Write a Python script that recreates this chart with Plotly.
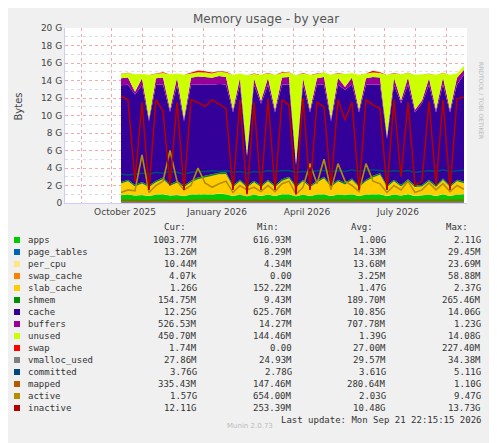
import pandas as pd
import plotly.graph_objects as go

# weekly samples, in GiB
dates = pd.date_range("2025-10-11", periods=50, freq="7D")

apps = [0.9, 0.95, 0.85, 0.9, 0.8, 0.95, 1.0, 0.85, 0.9, 0.8, 0.95, 1.0, 1.0, 0.95, 1.05, 1.0, 0.8, 0.95, 0.75, 0.95,
        0.8, 0.95, 0.8, 1.0, 1.0, 0.75, 0.95, 0.8, 0.95, 1.0, 0.8, 0.95, 0.9, 1.0, 0.8, 0.95, 1.0, 1.0, 0.8, 0.95,
        0.85, 1.0, 0.8, 0.85, 0.95, 0.8, 1.0, 0.8, 0.95, 0.98]
page_tables = [0.013] * 50
per_cpu = [0.01] * 50
swap_cache = [0.003] * 50
slab_cache = [1.3, 1.5, 1.0, 1.3, 1.0, 1.4, 1.7, 1.1, 1.4, 1.0, 1.4, 1.7, 1.9, 2.1, 2.2, 2.3, 1.0, 1.5, 1.0, 1.4,
              1.0, 1.5, 1.0, 1.5, 1.8, 1.0, 1.5, 1.0, 1.4, 1.8, 1.0, 1.5, 1.2, 1.6, 1.0, 1.5, 1.9, 2.2, 1.0, 1.5,
              1.0, 1.5, 1.0, 1.0, 1.5, 1.0, 1.6, 1.0, 1.5, 1.26]
shmem = [0.18] * 50
cache = [11.05, 10.85, 10.35, 11.05, 7.35, 10.95, 10.65, 8.25, 10.95, 7.35, 10.95, 10.65, 10.45, 10.25, 10.15, 10.05,
         8.35, 10.85, 3.35, 10.95, 9.35, 10.85, 8.35, 10.85, 10.55, 2.35, 10.85, 8.35, 10.95, 10.55, 7.35, 10.85,
         10.65, 10.75, 8.35, 10.85, 10.45, 10.15, 5.35, 10.85, 9.35, 10.85, 8.35, 9.35, 10.85, 8.35, 10.75, 8.35,
         10.85, 12.25]
buffers = [0.8, 0.85, 0.3, 0.8, 0.3, 0.75, 0.8, 0.3, 0.85, 0.3, 0.8, 0.9, 0.85, 0.8, 0.9, 0.85, 0.3, 0.8, 0.3, 0.75,
           0.3, 0.8, 0.3, 0.8, 0.85, 0.3, 0.8, 0.3, 0.75, 0.85, 0.3, 0.8, 0.3, 0.8, 0.3, 0.75, 0.85, 0.8, 0.3, 0.8,
           0.3, 0.8, 0.3, 0.3, 0.75, 0.3, 0.8, 0.3, 0.8, 0.53]
unused = [0.5, 0.5, 2.0, 0.5, 5.0, 0.5, 0.5, 4.0, 0.5, 5.0, 0.5, 0.5, 0.5, 0.5, 0.5, 0.5, 4.0, 0.5, 9.0, 0.5,
          3.0, 0.5, 4.0, 0.5, 0.5, 10.0, 0.5, 4.0, 0.5, 0.5, 5.0, 0.5, 1.5, 0.5, 4.0, 0.5, 0.5, 0.5, 7.0, 0.5,
          3.0, 0.5, 4.0, 3.0, 0.5, 4.0, 0.5, 4.0, 0.5, 0.45]
swap = [0.02, 0.02, 0.0, 0.0, 0.0, 0.05, 0.1, 0.0, 0.0, 0.0, 0.1, 0.2, 0.15, 0.1, 0.05, 0.1, 0.0, 0.0, 0.0, 0.05,
        0.0, 0.05, 0.0, 0.1, 0.05, 0.0, 0.05, 0.0, 0.05, 0.0, 0.0, 0.05, 0.0, 0.0, 0.0, 0.05, 0.2, 0.1, 0.0, 0.05,
        0.0, 0.02, 0.0, 0.0, 0.02, 0.0, 0.02, 0.0, 0.0, 0.002]
vmalloc_used = [0.03] * 50
committed = [3.3, 3.2, 3.3, 3.4, 3.3, 3.5, 3.4, 3.6, 3.5, 3.3, 3.5, 3.6, 3.6, 3.7, 3.6, 3.7, 3.5, 3.6, 3.4, 3.6,
             3.5, 3.7, 3.6, 3.7, 3.7, 3.5, 3.6, 3.5, 3.7, 3.7, 3.6, 3.7, 3.6, 3.8, 3.6, 3.7, 3.8, 3.7, 3.6, 3.7,
             3.6, 3.7, 3.5, 3.6, 3.7, 3.6, 3.8, 3.6, 3.7, 3.76]
mapped = [0.3, 0.28, 0.25, 0.3, 0.25, 0.3, 0.32, 0.25, 0.3, 0.25, 0.3, 0.3, 0.3, 0.28, 0.3, 0.3, 0.25, 0.3, 0.25, 0.3,
          0.25, 0.3, 0.25, 0.3, 0.3, 0.22, 0.3, 0.25, 0.3, 0.3, 0.25, 0.3, 0.3, 0.3, 0.25, 0.3, 0.3, 0.3, 0.25, 0.3,
          0.25, 0.3, 0.25, 0.25, 0.3, 0.25, 0.3, 0.25, 0.3, 0.33]
active = [1.2, 1.5, 1.4, 5.5, 1.2, 2.0, 2.5, 6.0, 2.5, 1.5, 2.0, 4.0, 2.3, 1.8, 2.2, 2.5, 1.2, 2.0, 1.5, 1.8,
          1.3, 2.0, 1.3, 2.2, 2.5, 1.0, 1.8, 4.5, 2.2, 5.0, 1.5, 4.5, 2.5, 2.0, 1.3, 4.5, 2.5, 2.2, 1.2, 2.0,
          1.5, 2.5, 1.2, 1.5, 2.3, 1.5, 2.2, 1.3, 2.0, 1.57]
inactive = [12.2, 11.8, 2.5, 11.5, 1.5, 11.8, 10.5, 2.0, 11.5, 1.5, 11.8, 11.5, 11.0, 11.8, 11.3, 10.8, 1.5, 11.8, 1.0, 11.5,
            1.5, 11.9, 1.5, 11.8, 11.2, 1.0, 12.0, 1.5, 11.5, 11.0, 2.0, 11.8, 9.5, 11.5, 1.5, 11.8, 11.2, 10.8, 1.5, 11.8,
            3.0, 11.5, 2.0, 2.5, 11.6, 2.0, 11.8, 1.5, 11.9, 12.11]

stack = [("apps", apps, "#00CC00"), ("page_tables", page_tables, "#0066B3"), ("per_cpu", per_cpu, "#FFE680"),
         ("swap_cache", swap_cache, "#FF8000"), ("slab_cache", slab_cache, "#FFCC00"), ("shmem", shmem, "#008F00"),
         ("cache", cache, "#330099"), ("buffers", buffers, "#990099"), ("unused", unused, "#CCFF00"),
         ("swap", swap, "#FF0000")]
lines = [("vmalloc_used", vmalloc_used, "#808080"), ("committed", committed, "#00487D"),
         ("mapped", mapped, "#B35A00"), ("active", active, "#B38F00"), ("inactive", inactive, "#B30000")]

stats = {
    "apps": ["1003.77M", "616.93M", "1.00G", "2.11G"],
    "page_tables": ["13.26M", "8.29M", "14.33M", "29.45M"],
    "per_cpu": ["10.44M", "4.34M", "13.68M", "23.69M"],
    "swap_cache": ["4.07k", "0.00", "3.25M", "58.88M"],
    "slab_cache": ["1.26G", "152.22M", "1.47G", "2.37G"],
    "shmem": ["154.75M", "9.43M", "189.70M", "265.46M"],
    "cache": ["12.25G", "625.76M", "10.85G", "14.06G"],
    "buffers": ["526.53M", "14.27M", "707.78M", "1.23G"],
    "unused": ["450.70M", "144.46M", "1.39G", "14.08G"],
    "swap": ["1.74M", "0.00", "27.00M", "227.40M"],
    "vmalloc_used": ["27.86M", "24.93M", "29.57M", "34.38M"],
    "committed": ["3.76G", "2.78G", "3.61G", "5.11G"],
    "mapped": ["335.43M", "147.46M", "280.64M", "1.10G"],
    "active": ["1.57G", "654.00M", "2.03G", "9.47G"],
    "inactive": ["12.11G", "253.39M", "10.48G", "13.73G"],
}

fig = go.Figure()
for name, vals, col in stack:
    fig.add_trace(go.Scatter(x=dates, y=vals, name=name, stackgroup="s", mode="lines",
                             line=dict(width=0, color=col), fillcolor=col))
for name, vals, col in lines:
    fig.add_trace(go.Scatter(x=dates, y=vals, name=name, mode="lines", line=dict(width=1.6, color=col)))

# the page adds an 8px body margin, so work in shifted pixel coords
OFF = 8
W, H = 497 - OFF, 443 - OFF
L, R, T, B = 65 - OFF, 467 - OFF, 28 - OFF, 203 - OFF
def px(x): return (x - OFF - L) / (R - L)
def py(y): return (B - (y - OFF)) / (B - T)

mono = "DejaVu Sans Mono"
ann = []
shapes = []
for txt, x in [("Cur:", 188), ("Min:", 281), ("Avg:", 375), ("Max:", 470)]:
    ann.append(dict(x=px(x), y=py(227), text=txt, xanchor="right"))
for i, (name, vals, col) in enumerate(stack + lines):
    y = 240 + 12 * i
    shapes.append(dict(type="rect", xref="paper", yref="paper", x0=px(14), x1=px(20), y0=py(y - 3), y1=py(y + 3),
                       fillcolor=col, line=dict(width=0)))
    ann.append(dict(x=px(26), y=py(y), text=name, xanchor="left"))
    for v, x in zip(stats[name], [199, 294, 388, 483]):
        ann.append(dict(x=px(x), y=py(y), text=v, xanchor="right"))
ann.append(dict(x=px(483), y=py(420), text="Last update: Mon Sep 21 22:15:15 2026", xanchor="right"))
for a in ann:
    a.update(xref="paper", yref="paper", showarrow=False, yanchor="middle",
             font=dict(family=mono, size=9, color="#333"))
ann.append(dict(x=px(250), y=py(432), xref="paper", yref="paper", showarrow=False, text="Munin 2.0.73",
                font=dict(family="DejaVu Sans", size=7, color="#bbb")))
ann.append(dict(x=px(487), y=py(60), xref="paper", yref="paper", showarrow=False, textangle=90,
                text="RRDTOOL / TOBI OETIKER", font=dict(family="DejaVu Sans", size=6, color="#bbb")))
ann.append(dict(x=px(10), y=py(107), xref="paper", yref="paper", showarrow=False, textangle=-90,
                text="Bytes", font=dict(family="DejaVu Sans", size=10, color="#444")))
ann.append(dict(x=0.5, y=py(19), xref="paper", yref="paper", showarrow=False, yanchor="middle",
                text="Memory usage - by year", font=dict(family="DejaVu Sans", size=12, color="#555")))

fig.update_layout(
    width=W, height=H, margin=dict(l=L, r=W - R, t=T, b=H - B),
    paper_bgcolor="#F0F0F0", plot_bgcolor="white", showlegend=False,
    annotations=ann, shapes=shapes,
    font=dict(family="DejaVu Sans", size=9, color="#444"),
)
fig.update_xaxes(range=["2025-08-16", "2026-09-22"],
                 tickvals=["2025-10-15", "2026-01-15", "2026-04-15", "2026-07-15"],
                 ticktext=["October 2025", "January 2026", "April 2026", "July 2026"],
                 showgrid=False, ticks="", showline=True, linecolor="#ccccff",
                 minor=dict(dtick="M1", tick0="2025-08-01", showgrid=True, gridcolor="#f4aaaa", griddash="dot"))
fig.update_yaxes(range=[0, 20], tickvals=list(range(0, 21, 2)),
                 ticktext=["0"] + [f"{v} G" for v in range(2, 21, 2)],
                 showgrid=True, gridcolor="#f4aaaa", griddash="dot", zeroline=False, ticks="",
                 showline=True, linecolor="#ccccff",
                 minor=dict(dtick=1, showgrid=True, gridcolor="#dddddd", griddash="dot"))

fig.write_html("out.html")
